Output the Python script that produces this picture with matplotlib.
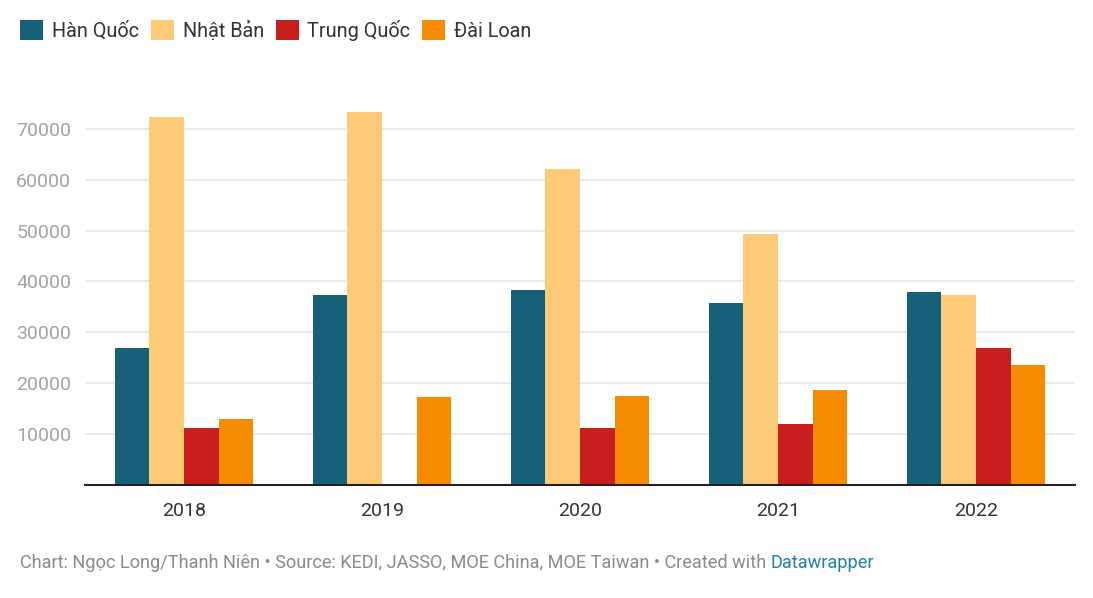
import numpy as np
import matplotlib.pyplot as plt

plt.rcParams['font.family'] = ['Roboto', 'DejaVu Sans']

years = ["2018", "2019", "2020", "2021", "2022"]
series = ["Hàn Quốc", "Nhật Bản", "Trung Quốc", "Đài Loan"]
han_quoc = [26900, 37300, 38300, 35800, 37900]
nhat_ban = [72300, 73300, 62100, 49300, 37300]
trung_quoc = [11200, np.nan, 11200, 12000, 26900]
dai_loan = [13000, 17300, 17500, 18700, 23600]
yticks = [10000, 20000, 30000, 40000, 50000, 60000, 70000]

colors = ["#17607a", "#fdca78", "#c81e1e", "#f88c00"]
values = [han_quoc, nhat_ban, trung_quoc, dai_loan]

fig = plt.figure(figsize=(10.93, 5.98), dpi=100)
ax = fig.add_axes([0.0778, 0.189, 0.9058, 0.638])

x = np.arange(len(years))
w = 0.175
for i, (name, vals, c) in enumerate(zip(series, values, colors)):
    ax.bar(x + (i - 1.5) * w, vals, width=w, color=c, label=name, zorder=2)

ax.set_xlim(-0.5, 4.5)
ax.set_ylim(0, 75000)
ax.set_yticks(yticks)
ax.set_yticklabels([str(v) for v in yticks], color="#a3a3a3", fontsize=14)
ax.set_xticks(x)
ax.set_xticklabels(years, color="#333333", fontsize=14)
ax.tick_params(axis="both", length=0)
ax.tick_params(axis="y", pad=10)
ax.tick_params(axis="x", pad=12)
ax.grid(axis="y", color="#e6e6e6", linewidth=1.2, zorder=0)
for s in ["top", "right", "left"]:
    ax.spines[s].set_visible(False)
ax.spines["bottom"].set_color("#222222")
ax.spines["bottom"].set_linewidth(1.5)
ax.spines["bottom"].set_zorder(3)

fig.legend(loc="upper left", bbox_to_anchor=(0.002, 0.997), ncol=4, frameon=False,
           fontsize=14.3, handlelength=1.15, handleheight=1.15, handletextpad=0.45,
           columnspacing=0.6, labelcolor="#333333", borderaxespad=0.5)

t1 = fig.text(0.018, 0.05, "Chart: Ngọc Long/Thanh Niên • Source: KEDI, JASSO, MOE China, MOE Taiwan • Created with ",
              color="#8a8a8a", fontsize=13.1, va="baseline")
fig.canvas.draw()
bb = t1.get_window_extent()
fig.text(bb.x1 / fig.bbox.width, 0.05, "Datawrapper", color="#1d81a8", fontsize=13.1, va="baseline")

fig.savefig("out.png", dpi=100, facecolor="white")
